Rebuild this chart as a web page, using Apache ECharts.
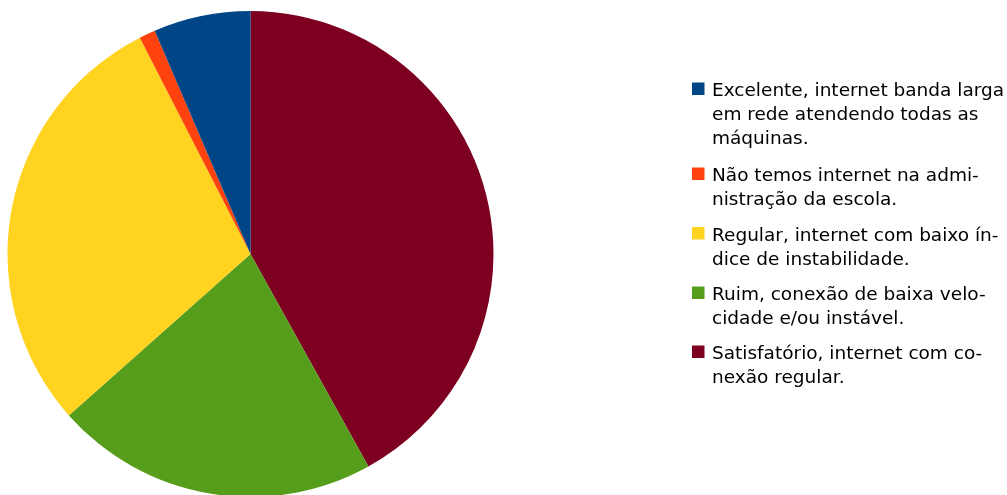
<!DOCTYPE html>
<html><head><meta charset="utf-8">
<script src="https://cdn.jsdelivr.net/npm/echarts@6/dist/echarts.min.js"></script>
<style>html,body{margin:0;padding:0;background:#fff}#c{width:1007px;height:495px}</style>
</head><body><div id="c"></div>
<script>
const categories = [
  'Excelente, internet banda larga em rede atendendo todas as máquinas.',
  'Não temos internet na administração da escola.',
  'Regular, internet com baixo índice de instabilidade.',
  'Ruim, conexão de baixa velocidade e/ou instável.',
  'Satisfatório, internet com conexão regular.'
];
const legendLines = [
  ['Excelente, internet banda larga', 'em rede atendendo todas as', 'máquinas.'],
  ['Não temos internet na admi-', 'nistração da escola.'],
  ['Regular, internet com baixo ín-', 'dice de instabilidade.'],
  ['Ruim, conexão de baixa velo-', 'cidade e/ou instável.'],
  ['Satisfatório, internet com co-', 'nexão regular.']
];
const values = [6, 1, 27, 20, 39];
const colors = ['#004586', '#ff420e', '#ffd320', '#579d1c', '#7e0021'];
const drawOrder = [4, 3, 2, 1, 0];

const LH = 24;
const legendTops = [79.5, 164.5, 224, 283.5, 342.5];
const FONT = 'DejaVu Sans';
const FS = 18.5;

const pieData = drawOrder.map(i => ({ name: categories[i], value: values[i], itemStyle: { color: colors[i] } }));

const legends = categories.map((name, i) => {
  const h = legendLines[i].length * LH;
  return {
    data: [name],
    left: 692,
    top: legendTops[i],
    orient: 'vertical',
    padding: 0,
    itemWidth: 15,
    itemHeight: h,
    symbolKeepAspect: false,
    icon: 'path://M0,0L0.01,0M0,3L12.5,3L12.5,15.5L0,15.5ZM15,' + h + 'L14.99,' + h,
    itemStyle: { borderWidth: 0 },
    selectedMode: false,
    textStyle: { fontFamily: FONT, fontSize: FS, color: '#000', lineHeight: LH },
    formatter: () => legendLines[i].join('\n')
  };
});

const chart = echarts.init(document.getElementById('c'), null, { renderer: 'canvas' });
chart.setOption({
  animation: false,
  backgroundColor: '#fff',
  legend: legends,
  series: [{
    type: 'pie',
    center: [250.5, 254],
    radius: 243,
    startAngle: 90,
    clockwise: true,
    label: { show: false },
    labelLine: { show: false },
    emphasis: { disabled: true },
    itemStyle: { borderWidth: 0 },
    data: pieData
  }]
});
</script></body></html>
